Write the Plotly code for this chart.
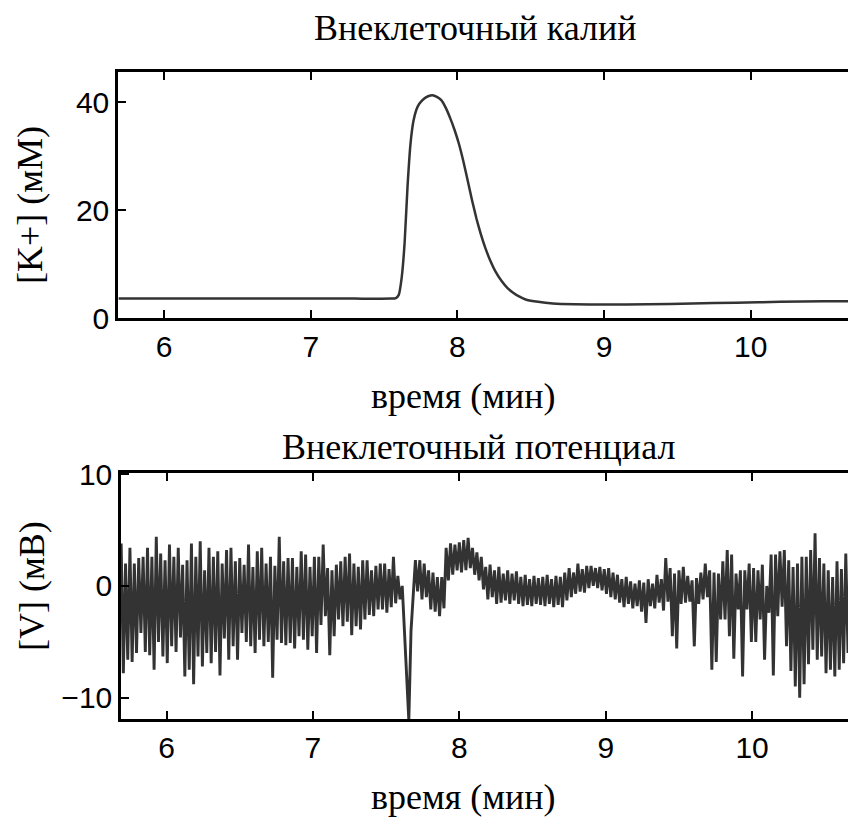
import numpy as np
import plotly.graph_objects as go

# Extracellular potassium concentration, mM, versus time, min
k_time = [5.69, 6.0, 6.5, 7.0, 7.3, 7.55, 7.58, 7.60, 7.62, 7.64, 7.66, 7.68,
          7.70, 7.72, 7.74, 7.77, 7.80, 7.83, 7.86, 7.89, 7.92, 7.95, 7.98,
          8.01, 8.04, 8.07, 8.10, 8.13, 8.16, 8.19, 8.22, 8.26, 8.30, 8.34,
          8.38, 8.42, 8.47, 8.55, 8.65, 8.80, 9.0, 9.3, 9.6, 9.9, 10.2,
          10.5, 10.67]
k_conc = [3.6, 3.6, 3.6, 3.6, 3.6, 3.6, 3.7, 4.3, 7.5, 14.0, 24.5, 32.3,
          36.5, 38.6, 39.7, 40.6, 41.1, 41.3, 41.0, 40.4, 39.0, 37.1, 34.9,
          32.3, 29.1, 25.5, 21.8, 18.4, 15.5, 13.0, 10.9, 8.6, 6.9, 5.6,
          4.7, 4.0, 3.4, 3.0, 2.7, 2.55, 2.5, 2.55, 2.7, 2.85, 3.0,
          3.1, 3.1]

# Extracellular potential, mV, sampled every 0.015 min from 5.69 min
v_start = 5.69
v_step = 0.015
v_mv = [
    3.8, -7.8, 2.0, -6.6, 3.4, -6.8, 2.0, -6.0, 2.5, -4.2, 2.6, -5.9,
    3.4, -6.2, 2.6, -7.5, 4.4, -5.0, 2.9, -6.3, 2.3, -6.9, 3.7, -5.4,
    2.6, -5.9, 3.4, -4.6, 1.9, -8.1, 2.3, -7.5, 3.8, -8.8, 2.6, -6.3,
    4.0, -7.2, 1.4, -6.0, 3.4, -6.9, 2.6, -5.9, 3.1, -8.0, 2.0, -4.7,
    3.2, -6.6, 3.4, -5.4, 2.2, -6.6, 2.5, -4.2, 1.9, -5.0, 3.7, -5.4,
    1.7, -6.0, 3.1, -4.8, 3.4, -5.4, 2.0, -5.0, 2.6, -8.2, 1.8, -4.8,
    4.4, -5.1, 2.2, -5.3, 2.5, -5.1, 2.5, -5.6, 1.7, -4.5, 3.1, -4.8,
    2.8, -5.7, 1.7, -4.5, 2.6, -6.0, 2.6, -3.5, 3.7, -2.7, 1.6, -6.2,
    1.4, -4.5, 1.9, -3.0, 2.2, -3.6, 2.6, -3.2, 2.9, -4.4, 2.0, -3.6,
    1.7, -3.9, 2.3, -3.0, 2.3, -2.6, 1.4, -2.7, 1.8, -2.1, 2.0, -2.1,
    2.0, -2.4, 1.5, -1.9, 2.6, -1.55, 0.9, -1.2,
    0.0, -4.5, -9.0, -12.0, -4.0, -0.5,
    2.3, -0.5, 2.3, -1.2, 2.0, -1.0, 1.4, -2.1, 1.2, -2.3, 0.8, -2.7,
    0.8, -2.0, 3.4, 0.5, 3.8, 1.0, 3.7, 1.4, 3.9, 1.2, 4.1, 1.4,
    4.3, 1.6, 3.4, 1.0, 3.0, 0.5, 2.6, -0.3, 1.7, -1.2,
    1.9, -1.0, 1.4, -1.6, 1.7, -1.5, 1.1, -1.3, 1.4, -1.6, 1.1, -1.3,
    1.3, -1.6, 0.8, -1.8, 1.0, -1.7, 0.6, -1.8, 0.9, -1.6, 0.7, -1.7,
    0.8, -1.8, 1.0, -1.6, 0.6, -1.9, 0.9, -1.7, 0.8, -1.9, 1.2, -1.3,
    1.6, -1.0, 1.2, -0.7, 2.0, -0.5, 1.5, -0.6, 1.8, -0.2, 1.8, 0.0,
    1.6, -0.2, 1.7, -0.4, 1.5, -0.7, 1.6, -1.0, 1.2, -1.2, 1.0, -1.5,
    0.6, -1.9, 0.8, -1.6, 0.4, -2.0, 0.2, -1.8, 0.5, -2.3, 0.3, -3.3,
    0.6, -1.8, 0.2, -2.0, 1.0, -1.5, 0.6, -2.2, 2.5, -1.4,
    1.6, -4.5, 1.1, -5.6, 1.4, -1.6, 1.7, -1.5, 0.9, -1.4, 0.5, -5.4,
    0.7, -1.6, 1.2, -1.2, 2.0, -1.0, 1.4, -7.5, 1.2, -6.8, 1.1, -3.0,
    2.2, -3.0, 3.2, -4.5, 2.8, -6.5, 1.1, -2.1, 1.4, -8.1, 1.4, -2.1,
    2.0, -5.0, 1.6, -5.0, 1.4, -3.0, 1.9, -6.6, 0.0, -2.4, 2.8, -8.0,
    2.8, -2.7, 3.1, -1.85, 3.2, -5.4, 2.3, -7.6, 1.7, -9.0, 2.0, -10.0,
    2.6, -8.8, 2.6, -7.0, 3.2, -5.7, 4.7, -6.6, 2.5, -6.3, 2.0, -7.8,
    1.4, -7.5, 0.8, -8.1, 2.2, -7.5, 1.5, -6.9, 2.9, -6.0, 2.5,
]
v_time = np.round(v_start + v_step * np.arange(len(v_mv)), 3)

x_ticks = [6, 7, 8, 9, 10]
k_ticks = [0, 20, 40]
v_ticks = [-10, 0, 10]

titles = {
    "k": "Внеклеточный калий",
    "v": "Внеклеточный потенциал",
    "x": "время (мин)",
    "k_y": "[K+] (мМ)",
    "v_y": "[V] (мВ)",
}

trace_color = "#333333"
serif = dict(family="Liberation Serif, Times New Roman, serif", size=36, color="black")
sans = dict(family="Liberation Sans, Arial, sans-serif", size=30, color="black")

fig = go.Figure()
fig.add_trace(go.Scatter(
    x=k_time, y=k_conc, mode="lines", xaxis="x", yaxis="y",
    line=dict(color=trace_color, width=2.5, shape="spline", smoothing=0.4),
    hoverinfo="skip",
))
fig.add_trace(go.Scatter(
    x=v_time, y=v_mv, mode="lines", xaxis="x2", yaxis="y2",
    line=dict(color=trace_color, width=2.9),
    hoverinfo="skip",
))

axis_common = dict(
    showline=True, linecolor="black", linewidth=2.5,
    ticks="inside", ticklen=8, tickwidth=2, tickcolor="black",
    showgrid=False, zeroline=False, tickfont=sans, automargin=False,
)

fig.update_layout(
    width=848, height=818,
    margin=dict(l=0, r=0, t=0, b=0),
    paper_bgcolor="white", plot_bgcolor="white",
    showlegend=False,
    xaxis=dict(domain=[0.1392, 1.0], anchor="y", range=[5.686, 10.663],
               tickvals=x_ticks, mirror="ticks", **axis_common),
    yaxis=dict(domain=[0.6112, 0.912], anchor="x", range=[0, 45.6],
               tickvals=k_ticks, **axis_common),
    xaxis2=dict(domain=[0.1427, 1.0], anchor="y2", range=[5.689, 10.655],
                tickvals=x_ticks, mirror="ticks", **axis_common),
    yaxis2=dict(domain=[0.121, 0.4218], anchor="x2", range=[-11.9, 10.1],
                tickvals=v_ticks, **axis_common),
)

annots = [
    (titles["k"], 0.5613, 0.9655, 0),
    (titles["x"], 0.546, 0.5155, 0),
    (titles["v"], 0.5637, 0.4535, 0),
    (titles["x"], 0.546, 0.0257, 0),
    (titles["k_y"], 0.0354, 0.7494, -90),
    (titles["v_y"], 0.0377, 0.2836, -90),
]
for text, ax, ay, ang in annots:
    fig.add_annotation(text=text, x=ax, y=ay, xref="paper", yref="paper",
                       xanchor="center", yanchor="middle", showarrow=False,
                       textangle=ang, font=serif)

fig.write_html("out.html")
